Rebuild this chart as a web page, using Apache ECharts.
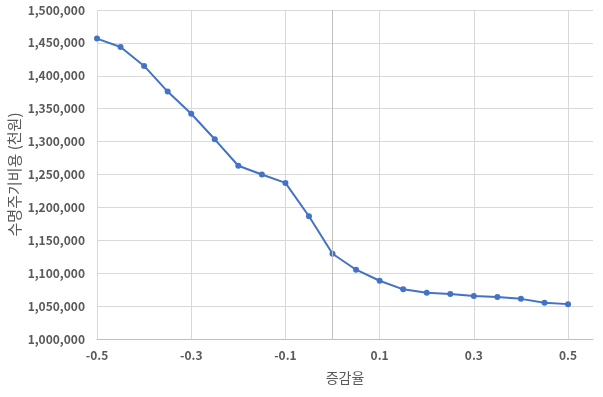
<!DOCTYPE html>
<html>
<head>
<meta charset="utf-8">
<script src="https://cdn.jsdelivr.net/npm/echarts@6/dist/echarts.min.js"></script>
<style>
  html, body { margin: 0; padding: 0; background: #fff; }
  #chart { width: 603px; height: 397px; }
</style>
</head>
<body>
<div id="chart"></div>
<script>
// 증감율 (x) 과 수명주기비용 (천원)
var rates = [-0.5, -0.45, -0.4, -0.35, -0.3, -0.25, -0.2, -0.15, -0.1, -0.05, 0,
             0.05, 0.1, 0.15, 0.2, 0.25, 0.3, 0.35, 0.4, 0.45, 0.5];
var costs = [1456500, 1443800, 1415000, 1376000, 1342300, 1303500, 1263300, 1250000, 1237200, 1186500, 1129500,
             1105300, 1088500, 1075500, 1070300, 1068500, 1065500, 1063700, 1061000, 1055000, 1053000];
var xTicks = [-0.5, -0.3, -0.1, 0.1, 0.3, 0.5];

var fontFam = '"Noto Sans CJK KR", "Noto Sans", sans-serif';

var chart = echarts.init(document.getElementById('chart'));

chart.setOption({
    animation: false,
    grid: { left: 97, right: 10, top: 10, bottom: 58, outerBoundsMode: 'none' },
    xAxis: {
        type: 'value',
        min: -0.5,
        max: 0.553,
        name: '증감율',
        nameLocation: 'middle',
        nameGap: 32,
        nameMoveOverlap: false,
        nameTextStyle: { color: '#595959', fontSize: 14, fontFamily: fontFam },
        axisLine: { show: true, onZero: false, lineStyle: { color: '#bfbfbf' } },
        axisTick: { show: false, customValues: xTicks },
        axisLabel: {
            customValues: xTicks,
            color: '#595959', fontSize: 12, fontWeight: 'bold', fontFamily: fontFam,
            margin: 10
        },
        splitLine: { show: true, lineStyle: { color: '#d9d9d9' } }
    },
    yAxis: {
        type: 'value',
        min: 1000000,
        max: 1500000,
        interval: 50000,
        name: '수명주기비용 (천원)',
        nameLocation: 'middle',
        nameGap: 75,
        nameMoveOverlap: false,
        nameTextStyle: { color: '#595959', fontSize: 15, fontFamily: fontFam },
        axisLine: { show: false },
        axisTick: { show: false },
        axisLabel: {
            color: '#595959', fontSize: 12, fontWeight: 'bold', fontFamily: fontFam,
            margin: 12,
            formatter: function (v) { return v.toLocaleString('en-US'); }
        },
        splitLine: { show: true, lineStyle: { color: '#d9d9d9' } }
    },
    series: [{
        type: 'line',
        data: rates.map(function (r, i) { return [r, costs[i]]; }),
        symbol: 'circle',
        symbolSize: 6,
        lineStyle: { color: '#4472c4', width: 2 },
        itemStyle: { color: '#4472c4' },
        markLine: {
            silent: true,
            symbol: 'none',
            label: { show: false },
            lineStyle: { color: '#bfbfbf', type: 'solid', width: 1 },
            data: [{ xAxis: 0 }]
        },
        z: 3
    }]
});
</script>
</body>
</html>
